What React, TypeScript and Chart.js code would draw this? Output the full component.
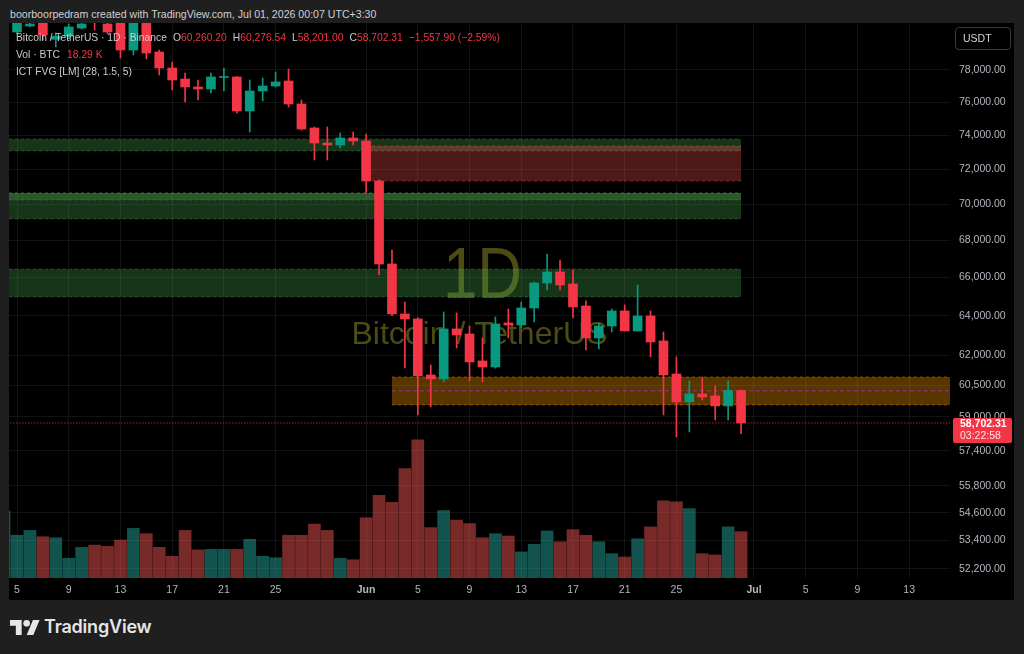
import React, { useEffect, useRef } from "react";
import { Chart, registerables } from "chart.js";

Chart.register(...registerables);

// ---------- data ----------
const dates = [
  "2026-05-04", "2026-05-05", "2026-05-06", "2026-05-07", "2026-05-08", "2026-05-09", "2026-05-10",
  "2026-05-11", "2026-05-12", "2026-05-13", "2026-05-14", "2026-05-15", "2026-05-16", "2026-05-17",
  "2026-05-18", "2026-05-19", "2026-05-20", "2026-05-21", "2026-05-22", "2026-05-23", "2026-05-24",
  "2026-05-25", "2026-05-26", "2026-05-27", "2026-05-28", "2026-05-29", "2026-05-30", "2026-05-31",
  "2026-06-01", "2026-06-02", "2026-06-03", "2026-06-04", "2026-06-05", "2026-06-06", "2026-06-07",
  "2026-06-08", "2026-06-09", "2026-06-10", "2026-06-11", "2026-06-12", "2026-06-13", "2026-06-14",
  "2026-06-15", "2026-06-16", "2026-06-17", "2026-06-18", "2026-06-19", "2026-06-20", "2026-06-21",
  "2026-06-22", "2026-06-23", "2026-06-24", "2026-06-25", "2026-06-26", "2026-06-27", "2026-06-28",
  "2026-06-29", "2026-06-30",
];

const opens = [
  81200, 80423, 80813, 81600, 79950, 80165, 80683,
  81350, 80943, 82000, 79266, 81500, 79139, 78126,
  77437, 76939, 76816, 77530, 77562, 75467, 76692,
  77001, 77312, 75893, 74442, 73547, 73428, 73844,
  73666, 71332, 66720, 64088, 63831, 61017, 60821,
  63319, 63065, 61709, 61411, 63625, 63523, 64398,
  65707, 66292, 65655, 64502, 62862, 63472, 64243,
  63217, 63985, 62710, 61066, 59706, 60091, 59994,
  59514, 60260.2,
];
const highs = [
  82300, 82000, 81100, 81800, 80359, 80950, 81100,
  81500, 81200, 82300, 82000, 81800, 79266, 78504,
  77812, 77374, 77812, 78126, 77600, 77374, 77499,
  77874, 78063, 76139, 74502, 74502, 74142, 74202,
  74082, 71400, 67476, 64710, 63900, 61510, 64192,
  64140, 63472, 62862, 63934, 64347, 64710, 65760,
  67259, 66936, 66399, 64763, 63625, 64347, 64554,
  65602, 64243, 63166, 61908, 60723, 60919, 60479,
  60723, 60276.54,
];
const lows = [
  80700, 80300, 80750, 79906, 79458, 79990, 80600,
  80550, 80300, 78757, 78948, 78700, 77687, 76754,
  76016, 76139, 76569, 76692, 75346, 74202, 76077,
  76939, 75711, 74322, 72548, 72548, 73252, 73428,
  70646, 66132, 64000, 61362, 59084, 59466, 60674,
  62358, 60723, 60674, 61350, 62862, 63370, 63676,
  65339, 65339, 63882, 62258, 62308, 63166, 63217,
  63217, 61908, 59084, 58047, 58281, 59802, 58847,
  58847, 58201.0,
];
const closes = [
  81900, 81500, 80943, 80229, 80150, 80748, 80943,
  81150, 80423, 79266, 81600, 79075, 78126, 77374,
  76939, 76816, 77562, 77562, 75467, 76692, 77001,
  77250, 75893, 74382, 73547, 73428, 73844, 73666,
  71332, 66720, 64088, 63831, 60968, 60821, 63319,
  63014, 61659, 61411, 63574, 63523, 64398, 65707,
  66292, 65602, 64451, 62862, 63472, 64243, 63217,
  63985, 62660, 61017, 59706, 60091, 59946, 59514,
  60260.2, 58702.31,
];
// volume in thousands of BTC
const volumes = [
  26.4, 16.9, 18.8, 16.3, 15.9, 7.8, 12.1,
  13.0, 12.5, 15.0, 19.6, 17.5, 12.1, 8.6,
  18.8, 11.1, 11.3, 11.3, 11.3, 15.3, 8.6,
  8.0, 16.9, 16.9, 21.3, 18.8, 7.8, 7.2,
  23.8, 32.7, 29.9, 43.2, 54.6, 19.9, 26.6,
  22.9, 21.5, 15.9, 17.5, 16.6, 10.3, 13.3,
  18.6, 14.3, 19.1, 16.9, 14.3, 9.6, 8.3,
  15.5, 20.2, 30.5, 30.1, 27.4, 9.6, 9.1,
  20.2, 18.29,
];

const priceTicks = [78000, 76000, 74000, 72000, 70000, 68000, 66000, 64000, 62000, 60500, 59000, 57400, 55800, 54600, 53400, 52200];
const xTickDates = [
  "2026-05-05", "2026-05-09", "2026-05-13", "2026-05-17", "2026-05-21", "2026-05-25", "2026-06-01",
  "2026-06-05", "2026-06-09", "2026-06-13", "2026-06-17", "2026-06-21", "2026-06-25", "2026-07-01",
  "2026-07-05", "2026-07-09", "2026-07-13",
];
const xTickLabels = ["5", "9", "13", "17", "21", "25", "Jun", "5", "9", "13", "17", "21", "25", "Jul", "5", "9", "13"];

// ICT fair value gap boxes
const boxStart = ["2026-04-20", "2026-06-01", "2026-04-20", "2026-04-20", "2026-04-20", "2026-06-03"];
const boxEnd = ["2026-06-30", "2026-06-30", "2026-06-30", "2026-06-30", "2026-06-30", "2026-08-10"];
const boxTop = [73785, 73370, 70646, 70646, 66452, 60919];
const boxBottom = [73075, 71332, 69181, 70249, 64971, 59562];
const boxKind = ["bull", "bear", "bull", "bull", "bull", "zone"];
const zoneMid = 60240;

const viewStart = "2026-05-04";
const viewStartOffset = 0.38; // fraction of day
const viewDays = 72.78;
const priceMin = 51813;
const priceMax = 81008;

// ---------- helpers ----------
const FONT = '"Liberation Sans", Arial, sans-serif';
const UP = "#089981";
const DOWN = "#f23645";
const VOL_UP = "rgba(38,166,154,0.5)";
const VOL_DOWN = "rgba(239,83,80,0.5)";
const GRID = "rgba(255,255,255,0.07)";
const TICK = "#b2b5be";

const base = Date.parse("2026-05-05T00:00:00Z");
const dayIndex = (s: string) => (Date.parse(s + "T00:00:00Z") - base) / 86400000;

const boxStyle: Record<string, { fill: string; border: string; order: number }> = {
  bull: { fill: "rgba(76,175,80,0.3)", border: "rgba(76,175,80,0.32)", order: 9 },
  bear: { fill: "rgba(255,82,82,0.3)", border: "rgba(255,82,82,0.4)", order: 8 },
  zone: { fill: "rgba(255,152,0,0.35)", border: "rgba(255,152,0,0.4)", order: 7 },
};

const fmt = (v: number) =>
  Number(v).toLocaleString("en-US", { minimumFractionDigits: 2, maximumFractionDigits: 2 });

const zeroPad = (s: any) => {
  s.paddingTop = 0;
  s.paddingBottom = 0;
  s.paddingLeft = 0;
  s.paddingRight = 0;
};

export default function App() {
  const ref = useRef<HTMLCanvasElement>(null);

  useEffect(() => {
    document.body.style.background = "#1f1f1f";
    const idx = dates.map(dayIndex);
    const up = closes.map((c, i) => c >= opens[i]);
    const xMin = dayIndex(viewStart) + viewStartOffset;
    const xMax = xMin + viewDays;
    const xTicks = xTickDates.map(dayIndex);
    const lastClose = closes[closes.length - 1];

    const datasets: any[] = [];

    datasets.push({
      type: "bar",
      label: "Volume",
      yAxisID: "yv",
      data: volumes.map((v, i) => ({ x: idx[i], y: v })),
      backgroundColor: up.map((u) => (u ? VOL_UP : VOL_DOWN)),
      barThickness: 12,
      grouped: false,
      order: 10,
    });

    boxTop.forEach((top, k) => {
      const st = boxStyle[boxKind[k]];
      const s = dayIndex(boxStart[k]);
      const e = dayIndex(boxEnd[k]);
      datasets.push({
        type: "line",
        label: "FVG top " + k,
        yAxisID: "y",
        data: [{ x: s, y: top }, { x: e, y: top }],
        fill: { value: boxBottom[k] },
        backgroundColor: st.fill,
        borderColor: st.border,
        borderWidth: 1,
        borderDash: [3, 3],
        pointRadius: 0,
        order: st.order,
      });
      datasets.push({
        type: "line",
        label: "FVG bottom " + k,
        yAxisID: "y",
        data: [{ x: s, y: boxBottom[k] }, { x: e, y: boxBottom[k] }],
        fill: false,
        borderColor: st.border,
        borderWidth: 1,
        borderDash: [3, 3],
        pointRadius: 0,
        order: st.order,
      });
    });

    const zk = boxKind.indexOf("zone");
    datasets.push({
      type: "line",
      label: "Zone mid",
      yAxisID: "y",
      data: [{ x: dayIndex(boxStart[zk]), y: zoneMid }, { x: dayIndex(boxEnd[zk]), y: zoneMid }],
      fill: false,
      borderColor: "#9c27b0",
      borderWidth: 1,
      borderDash: [4, 3],
      pointRadius: 0,
      order: 6,
    });

    datasets.push({
      type: "line",
      label: "Last price",
      yAxisID: "y",
      data: [{ x: xMin - 5, y: lastClose }, { x: xMax + 5, y: lastClose }],
      fill: false,
      borderColor: DOWN,
      borderWidth: 1,
      borderDash: [1, 2],
      pointRadius: 0,
      order: 5,
    });

    datasets.push({
      type: "bar",
      label: "Wicks",
      yAxisID: "y",
      data: lows.map((l, i) => ({ x: idx[i], y: [l, highs[i]] })),
      backgroundColor: up.map((u) => (u ? UP : DOWN)),
      barThickness: 1,
      grouped: false,
      order: 2,
    });

    datasets.push({
      type: "bar",
      label: "Bodies",
      yAxisID: "y",
      data: opens.map((o, i) => ({ x: idx[i], y: [o, closes[i]] })),
      backgroundColor: up.map((u) => (u ? UP : DOWN)),
      barThickness: 9,
      minBarLength: 1,
      grouped: false,
      order: 1,
    });

    const watermark = {
      id: "watermark",
      beforeDatasetsDraw(chart: any) {
        const { ctx, chartArea } = chart;
        const cx = (chartArea.left + chartArea.right) / 2;
        const cy = (chartArea.top + chartArea.bottom) / 2;
        ctx.save();
        ctx.fillStyle = "rgba(150,150,40,0.5)";
        ctx.textAlign = "center";
        ctx.textBaseline = "middle";
        ctx.save();
        ctx.translate(cx + 3, cy - 22);
        ctx.scale(0.86, 1);
        ctx.font = "72px " + FONT;
        ctx.fillText("1D", 0, 0);
        ctx.restore();
        ctx.font = "32px " + FONT;
        ctx.fillText("Bitcoin / TetherUS", cx, cy + 35);
        ctx.restore();
      },
    };

    const priceLabel = {
      id: "priceLabel",
      afterDraw(chart: any) {
        const { ctx, chartArea } = chart;
        const y = Math.round(chart.scales.y.getPixelForValue(lastClose));
        const left = chartArea.right + 3;
        ctx.save();
        ctx.fillStyle = DOWN;
        ctx.beginPath();
        ctx.roundRect(left, y - 5, 59, 25, 2);
        ctx.fill();
        ctx.textAlign = "left";
        ctx.textBaseline = "middle";
        ctx.fillStyle = "#ffffff";
        ctx.font = "bold 10.5px " + FONT;
        ctx.fillText(fmt(lastClose), left + 7, y + 1);
        ctx.fillStyle = "#ffe0e2";
        ctx.font = "10.5px " + FONT;
        ctx.fillText("03:22:58", left + 7, y + 13);
        ctx.restore();
      },
    };

    const chart = new Chart(ref.current as HTMLCanvasElement, {
      type: "bar",
      data: { datasets },
      options: {
        animation: false,
        responsive: false,
        events: [],
        layout: { padding: 0 },
        plugins: {
          legend: { display: false },
          tooltip: { enabled: false },
        },
        scales: {
          x: {
            type: "linear",
            min: xMin,
            max: xMax,
            offset: false,
            grid: { color: GRID, drawTicks: false, offset: false },
            border: { display: false },
            ticks: {
              autoSkip: false,
              maxRotation: 0,
              padding: 6,
              color: TICK,
              font: (c: any) => ({
                family: FONT,
                size: 10.5,
                weight: xTickLabels[c.index] === "Jun" || xTickLabels[c.index] === "Jul" ? "bold" : "normal",
              }),
              callback: (_v: any, i: number) => xTickLabels[i],
            },
            afterBuildTicks: (s: any) => {
              s.ticks = xTicks.map((v) => ({ value: v }));
            },
            afterFit: (s: any) => {
              s.height = 22;
              zeroPad(s);
            },
          },
          y: {
            type: "logarithmic",
            position: "right",
            min: priceMin,
            max: priceMax,
            grid: { color: GRID, drawTicks: false },
            border: { display: false },
            ticks: {
              padding: 9,
              color: TICK,
              font: { family: FONT, size: 10.5 },
              callback: (v: any) => fmt(Number(v)),
            },
            afterBuildTicks: (s: any) => {
              s.ticks = priceTicks.map((v) => ({ value: v }));
            },
            afterFit: (s: any) => {
              s.width = 64;
              zeroPad(s);
            },
          },
          yv: {
            type: "linear",
            display: false,
            min: 0,
            max: 219.3,
          },
        },
      } as any,
      plugins: [watermark, priceLabel],
    });
    return () => chart.destroy();
  }, []);

  const red = { color: DOWN };
  const legendLine = {
    position: "absolute" as const,
    left: 7,
    fontSize: 10.3,
    lineHeight: "13px",
    color: "#c9cbd1",
    whiteSpace: "nowrap" as const,
  };

  return (
    <div
      style={{
        position: "absolute",
        left: 0,
        top: 0,
        width: 1024,
        height: 654,
        background: "#1f1f1f",
        overflow: "hidden",
        fontFamily: FONT,
      }}
    >
      <div
        style={{
          position: "absolute",
          left: 10,
          top: 7,
          fontSize: 10.6,
          lineHeight: "14px",
          color: "#d0d0d0",
          whiteSpace: "nowrap",
        }}
      >
        boorboorpedram created with TradingView.com, Jul 01, 2026 00:07 UTC+3:30
      </div>
      <div style={{ position: "absolute", left: 9, top: 23, width: 1005, height: 577, background: "#000" }}>
        <canvas ref={ref} width={1005} height={577} style={{ display: "block" }} />
        <div style={{ ...legendLine, top: 8 }}>
          <span>Bitcoin / TetherUS · 1D · Binance</span>
          <span style={{ marginLeft: 6 }}>O<span style={red}>60,260.20</span></span>
          <span style={{ marginLeft: 6 }}>H<span style={red}>60,276.54</span></span>
          <span style={{ marginLeft: 6 }}>L<span style={red}>58,201.00</span></span>
          <span style={{ marginLeft: 6 }}>C<span style={red}>58,702.31</span></span>
          <span style={{ marginLeft: 6, ...red }}>−1,557.90 (−2.59%)</span>
        </div>
        <div style={{ ...legendLine, top: 25 }}>
          <span>Vol · BTC</span>
          <span style={{ marginLeft: 7, ...red }}>18.29 K</span>
        </div>
        <div style={{ ...legendLine, top: 42 }}>ICT FVG [LM] (28, 1.5, 5)</div>
        <div
          style={{
            position: "absolute",
            left: 946,
            top: 4,
            width: 56,
            height: 23,
            boxSizing: "border-box",
            border: "1px solid #3a3a3a",
            borderRadius: 4,
            color: "#d1d4dc",
            fontSize: 10.5,
            lineHeight: "21px",
            paddingLeft: 7,
          }}
        >
          USDT
        </div>
      </div>
      <svg
        style={{ position: "absolute", left: 10, top: 619 }}
        width={30}
        height={17}
        viewBox="0 3.5 36 19"
      >
        <path d="M14 22H7V11H0V4h14v18zM28 22h-8l7.5-18h8L28 22z" fill="#e6e6e6" />
        <circle cx="20" cy="8" r="4" fill="#e6e6e6" />
      </svg>
      <div
        style={{
          position: "absolute",
          left: 44,
          top: 615,
          fontFamily: "Inter, " + FONT,
          fontWeight: 600,
          fontSize: 18,
          lineHeight: "24px",
          color: "#e6e6e6",
          letterSpacing: -0.2,
        }}
      >
        TradingView
      </div>
    </div>
  );
}
